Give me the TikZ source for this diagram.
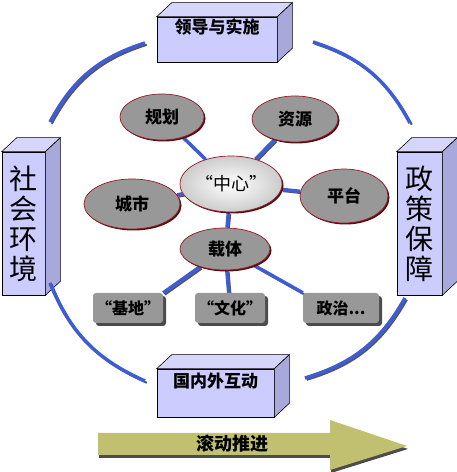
\documentclass[tikz,border=0pt]{standalone}
\usepackage{fontspec}
\setmainfont{Noto Sans CJK SC}
\usetikzlibrary{shapes.geometric,shadows,backgrounds,positioning}
\definecolor{boxfront}{RGB}{204,204,255}
\definecolor{boxtop}{RGB}{214,214,252}
\definecolor{boxside}{RGB}{168,168,218}
\definecolor{linkblue}{RGB}{62,92,212}
\definecolor{linkshade}{RGB}{85,85,95}
\definecolor{ovalgray}{RGB}{152,152,152}
\definecolor{ovalred}{RGB}{150,25,35}
\definecolor{arrowolive}{RGB}{192,192,112}

\begin{document}
\begin{tikzpicture}[x=1pt,y=1pt,
  cube/.style={draw=black, fill=boxfront, line width=0.6pt, inner sep=0pt},
  cubetext/.style={font=\bfseries\fontsize{17}{17}\selectfont, text height=14pt, text depth=25pt},
  sidetext/.style={font=\fontsize{28}{30}\selectfont, align=center},
  oval/.style={ellipse, draw=ovalred, fill=ovalgray, line width=0.7pt, inner sep=0pt,
               font=\bfseries\fontsize{17}{17}\selectfont,
               drop shadow={shadow xshift=1.5pt, shadow yshift=-1.5pt, fill=ovalred!55!black, opacity=1}},
  tag/.style={fill=ovalgray, rounded corners=3pt, minimum height=30pt, inner sep=0pt,
              font=\bfseries\fontsize{16}{16}\selectfont,
              drop shadow={shadow xshift=3pt, shadow yshift=-3pt, fill=black!70, opacity=1}},
  link/.style={linkblue, line width=3.5pt,
               preaction={draw=linkshade, line width=2pt, transform canvas={xshift=1.8pt,yshift=-1.8pt}}}
]
\useasboundingbox (0,0) rectangle (457,472);

% Boxes
\node[cube, cubetext, minimum width=120pt, minimum height=45pt] (lead) at (217,432.5) {领导与实施};
\node[cube, sidetext, minimum width=43pt, minimum height=143pt] (social) at (23.5,248.5) {社\\会\\环\\境};
\node[cube, sidetext, minimum width=45pt, minimum height=143pt] (policy) at (419.5,248.5) {政\\策\\保\\障};
\node[cube, cubetext, minimum width=117pt, minimum height=48pt] (interact) at (215.5,79) {国内外互动};

% Box depth
\foreach \n in {lead,social,policy,interact} {
  \filldraw[fill=boxtop, line width=0.6pt] (\n.north west) -- ([shift={(15,14)}]\n.north west)
    -- ([shift={(15,14)}]\n.north east) -- (\n.north east) -- cycle;
  \filldraw[fill=boxside, line width=0.6pt] (\n.north east) -- ([shift={(15,14)}]\n.north east)
    -- ([shift={(15,14)}]\n.south east) -- (\n.south east) -- cycle;
}

% Ovals
\node[oval, minimum width=84pt, minimum height=46pt] (plan) at (162,355) {规划};
\node[oval, minimum width=86pt, minimum height=46pt] (resource) at (295,353) {资源};
\node[oval, minimum width=96pt, minimum height=50pt] (city) at (132,268) {城市};
\node[oval, minimum width=88pt, minimum height=54pt] (platform) at (344,276) {平台};
\node[oval, minimum width=90pt, minimum height=42pt] (carrier) at (225,223) {载体};
\node[oval, minimum width=102pt, minimum height=56pt, inner color=white, outer color=gray!40,
      font=\fontsize{18}{18}\selectfont] (hub) at (231,288) {“中心”};

% Tags
\node[tag, minimum width=70pt] (base) at (128,164) {“基地”};
\node[tag, minimum width=70pt] (culture) at (230,164) {“文化”};
\node[tag, minimum width=76pt] (politics) at (341,164) {政治...};

% Arrow
\fill[arrowolive, drop shadow={shadow xshift=1pt, shadow yshift=-3pt, fill=black!70, opacity=1}]
  (98,39) -- (330,39) -- (330,52) -- (407,26) -- (330,2) -- (330,17) -- (98,17) -- cycle;
\node[font=\bfseries\fontsize{18}{18}\selectfont] (roll) at (232,28) {滚动推进};

% Outer ring
\coordinate (tl1) at (145,429);
\coordinate (tl2) at (50,350);
\coordinate (tr1) at (313,430);
\coordinate (tr2) at (410,349);
\coordinate (bl1) at (50,189);
\coordinate (bl2) at (145,91);
\coordinate (br1) at (405,174);
\coordinate (br2) at (305,94);
\draw[link] (tl1) to[bend right=22] (tl2);
\draw[link] (tr1) to[bend left=22] (tr2);
\draw[link] (bl1) to[bend right=22] (bl2);
\draw[link] (br1) to[bend left=22] (br2);

% Spokes
\begin{scope}[on background layer]
\draw[link] (plan) -- (hub);
\draw[link] (resource) -- (hub);
\draw[link] (city) -- (hub);
\draw[link] (platform) -- (hub);
\draw[link] (hub) -- (carrier);
\draw[link] (carrier) -- (base.north east);
\draw[link] (carrier) -- (culture);
\draw[link] (carrier) -- (politics.north west);
\end{scope}
\end{tikzpicture}
\end{document}
